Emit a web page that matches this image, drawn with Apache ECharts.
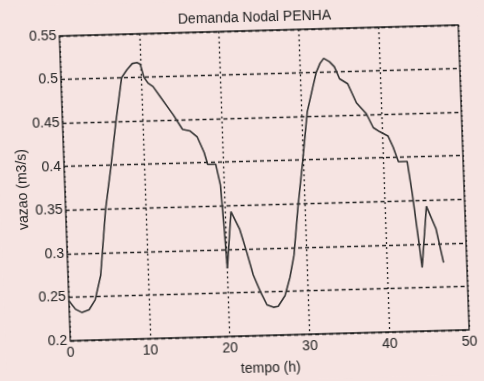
<!DOCTYPE html>
<html>
<head>
<meta charset="utf-8">
<script src="https://cdn.jsdelivr.net/npm/echarts@6/dist/echarts.min.js"></script>
<style>
  html, body { margin: 0; padding: 0; background: #f6e4e2; overflow: hidden; }
  #chart {
    width: 484px; height: 381px;
    /* the printed page sits slightly askew */
    transform: rotate(-1.57deg) skewX(0.48deg);
    transform-origin: 242px 190px;
  }
</style>
</head>
<body>
<div id="chart"></div>
<script>
// Demanda nodal PENHA: vazao (m3/s) ao longo do tempo (h)
const tempo = [0, 0.8, 1.6, 2.5, 3.3, 4.1, 5.0, 5.9, 6.7, 7.6,
  8.3, 9.0, 9.6, 10.0, 10.4, 10.9, 11.5, 12.3, 13.1, 13.9,
  15.0, 15.9, 16.8, 17.6, 18.0, 19.0, 19.5, 19.75, 20.0, 20.7,
  21.7, 22.5, 23.2, 24.0, 24.8, 25.6, 26.2, 27.1, 27.8, 28.4,
  29.1, 29.9, 30.7, 31.5, 32.0, 32.5, 33.0, 33.7, 34.3, 34.9,
  35.9, 36.9, 38.1, 38.9, 39.7, 40.7, 41.3, 41.9, 43.0, 43.5,
  44.1, 44.4, 45.2, 46.3, 47.1];
const vazao = [0.246, 0.236, 0.232, 0.235, 0.246, 0.274, 0.349, 0.400, 0.450, 0.500,
  0.509, 0.516, 0.517, 0.515, 0.500, 0.493, 0.489, 0.478, 0.467, 0.456,
  0.439, 0.437, 0.430, 0.412, 0.398, 0.398, 0.374, 0.330, 0.278, 0.343,
  0.323, 0.296, 0.270, 0.251, 0.235, 0.232, 0.233, 0.245, 0.266, 0.291,
  0.345, 0.398, 0.455, 0.483, 0.500, 0.510, 0.516, 0.512, 0.506, 0.492,
  0.486, 0.464, 0.451, 0.435, 0.430, 0.425, 0.412, 0.395, 0.395, 0.357,
  0.302, 0.273, 0.343, 0.317, 0.278];

const xTicks = { min: 0, max: 50, interval: 10 };
const yTicks = { min: 0.2, max: 0.55, interval: 0.05 };

const ink = '#222';
const font = 'Liberation Sans, Arial, sans-serif';

const chart = echarts.init(document.getElementById('chart'), null, { renderer: 'canvas' });
chart.setOption({
  backgroundColor: '#f6e4e2',
  animation: false,
  title: {
    text: 'Demanda Nodal PENHA',
    left: 184, top: 11, padding: 0,
    textStyle: { fontFamily: font, fontSize: 14, fontWeight: 'normal', color: ink }
  },
  grid: {
    left: 65, top: 31, width: 399, height: 310,
    show: true, borderColor: ink, borderWidth: 1.3, backgroundColor: 'transparent'
  },
  xAxis: {
    type: 'value',
    min: xTicks.min, max: xTicks.max, interval: xTicks.interval,
    name: 'tempo (h)', nameLocation: 'middle', nameGap: 26, nameMoveOverlap: false,
    nameTextStyle: { fontFamily: font, fontSize: 14, color: ink },
    axisLine: { show: false },
    axisTick: { show: false },
    axisLabel: { fontFamily: font, fontSize: 14, color: ink, margin: 5 },
    splitLine: { show: true, lineStyle: { color: ink, width: 1.3, type: [2, 3] } }
  },
  yAxis: {
    type: 'value',
    min: yTicks.min, max: yTicks.max, interval: yTicks.interval,
    name: 'vazao (m3/s)', nameLocation: 'middle', nameGap: 35, nameMoveOverlap: false,
    nameTextStyle: { fontFamily: font, fontSize: 14, color: ink },
    axisLine: { show: false },
    axisTick: { show: false },
    axisLabel: {
      fontFamily: font, fontSize: 14, color: ink, margin: 3,
      formatter: v => String(+v.toFixed(2))
    },
    splitLine: { show: true, lineStyle: { color: ink, width: 1.3, type: [4, 3] } }
  },
  series: [{
    type: 'line',
    data: tempo.map((t, i) => [t, vazao[i]]),
    showSymbol: false,
    lineStyle: { color: '#333', width: 1.6 },
    z: 5
  }]
});
</script>
</body>
</html>
